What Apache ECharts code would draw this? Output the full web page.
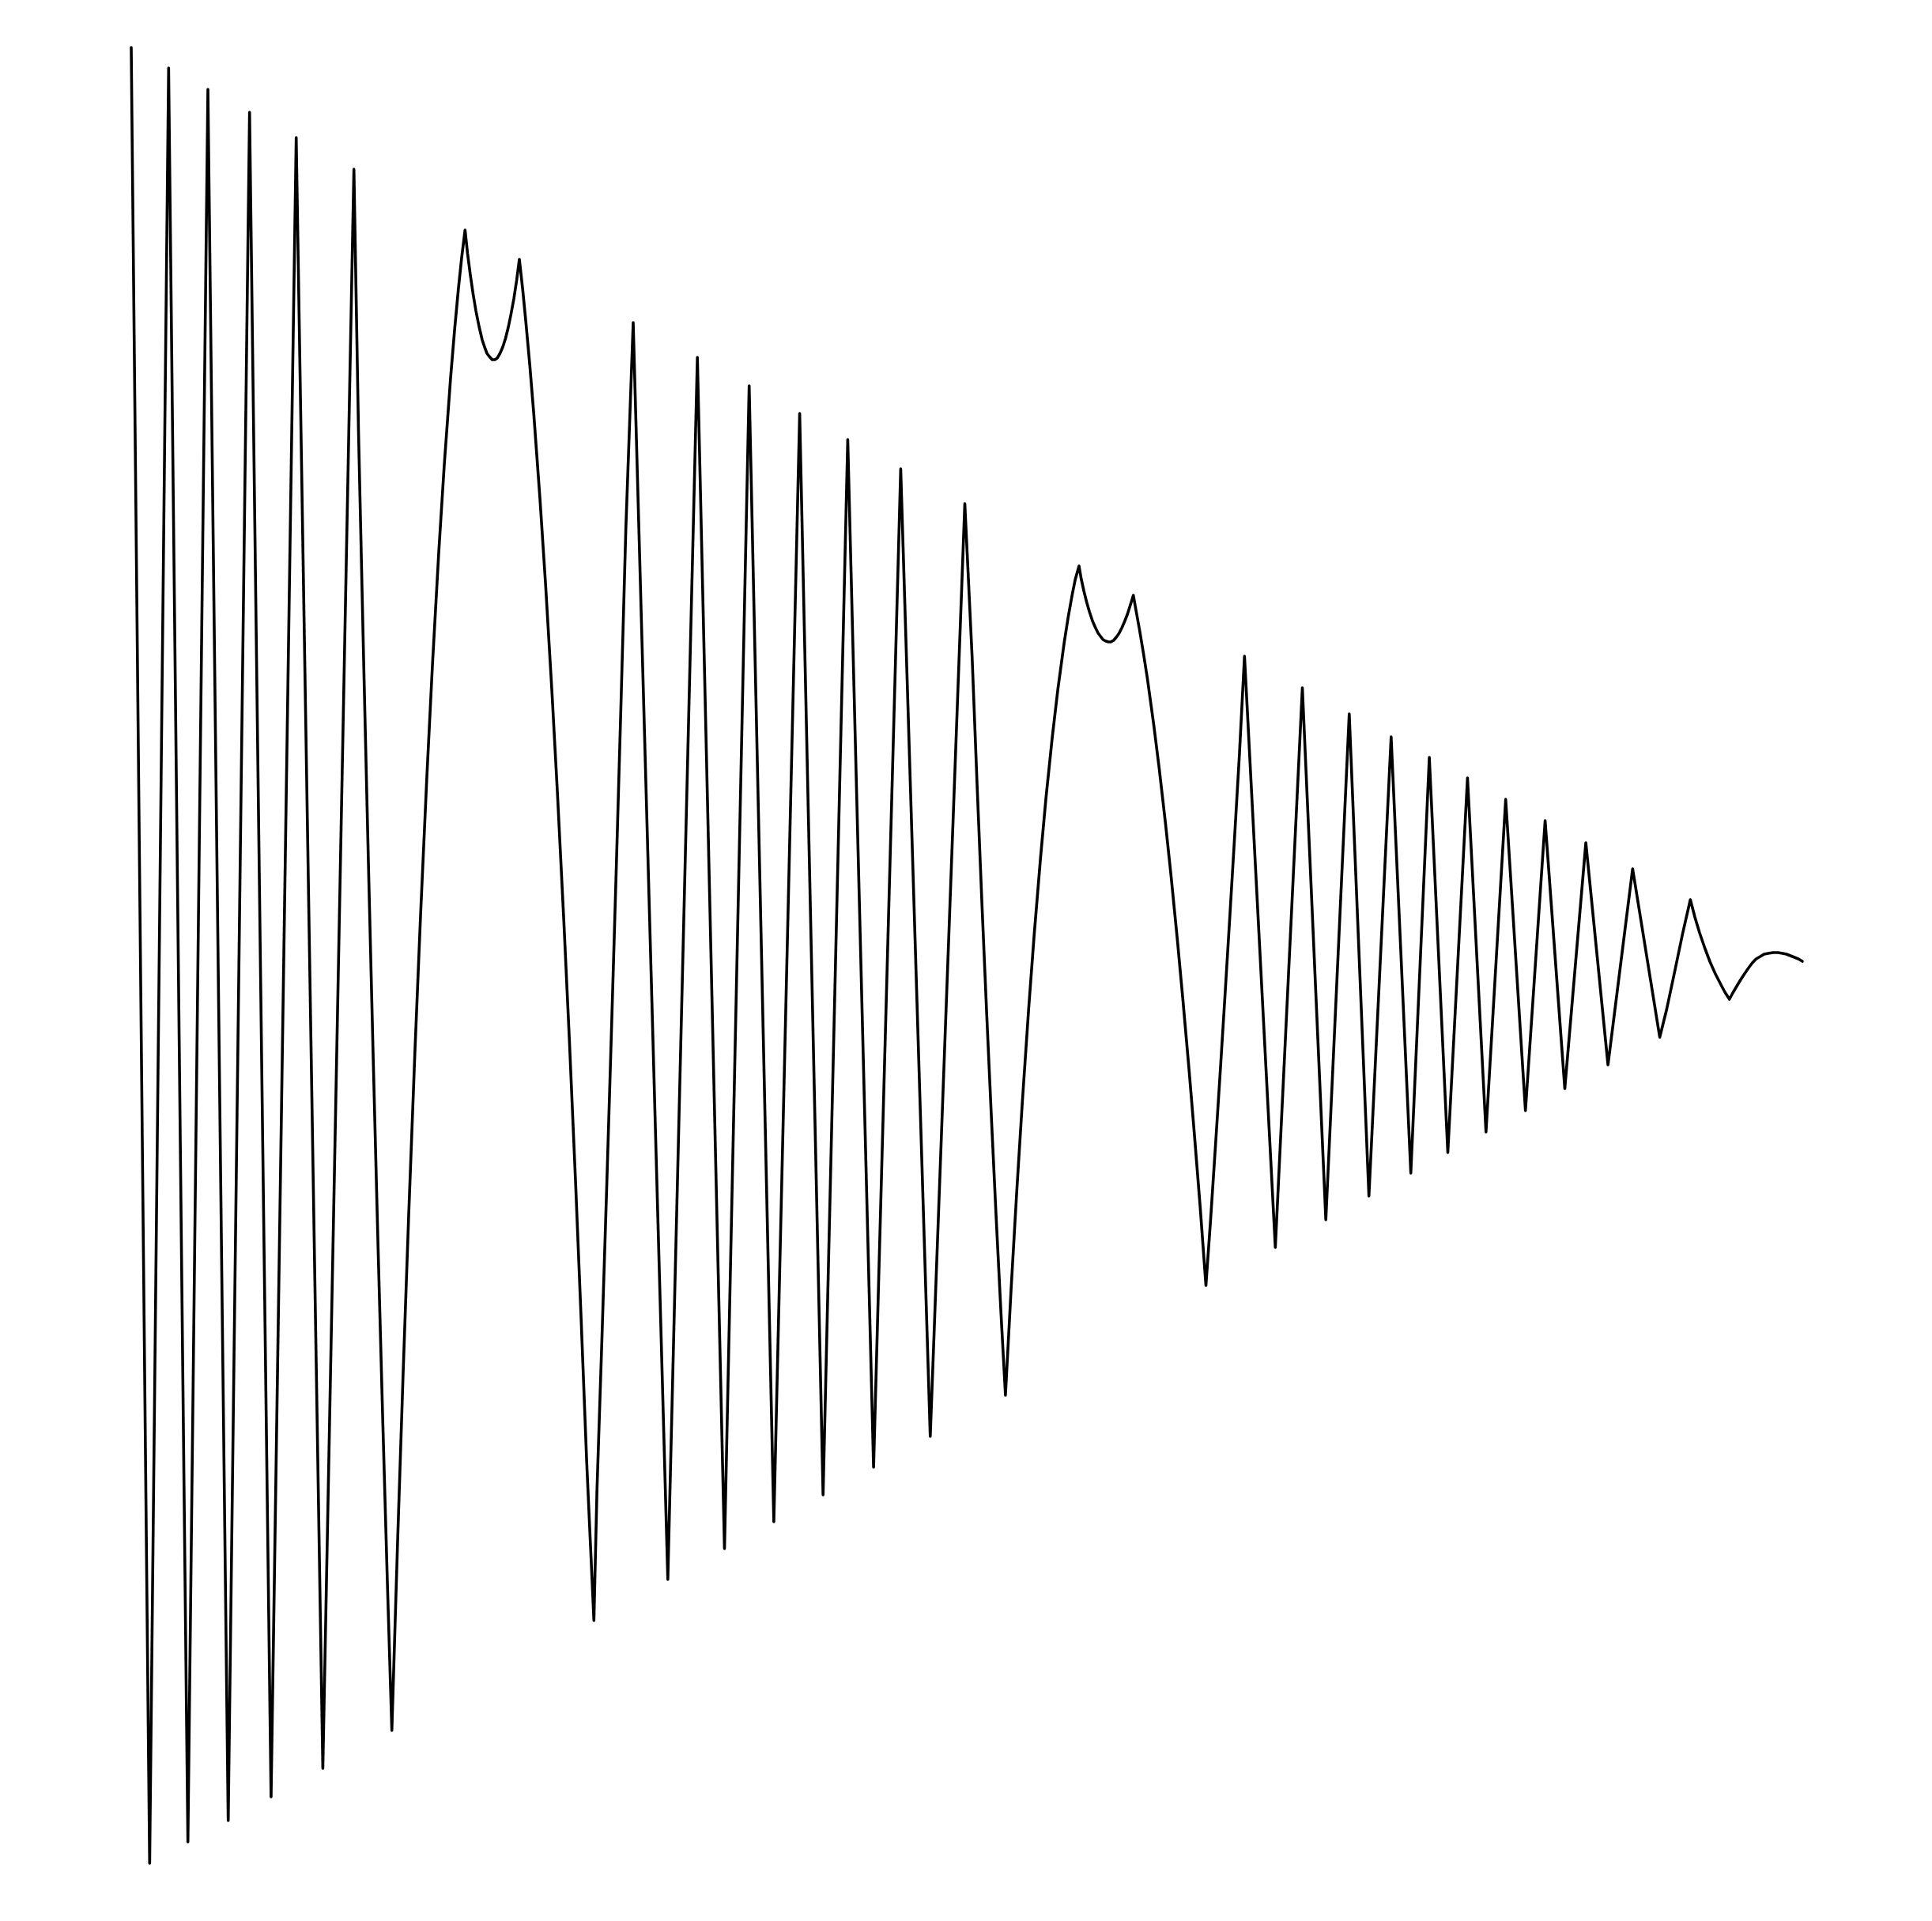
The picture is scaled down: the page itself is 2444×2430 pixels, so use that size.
<!DOCTYPE html>
<html>
<head>
<meta charset="utf-8">
<script src="https://cdn.jsdelivr.net/npm/echarts@6/dist/echarts.min.js"></script>
<style>
html,body{margin:0;padding:0;background:#fff;}
#chart{width:2444px;height:2430px;}
</style>
</head>
<body>
<div id="chart"></div>
<script>
// x positions (arbitrary time units) and signal values
const xs = [0,23.3,47.3,71.7,97,122.7,149.7,176.9,208.7,242.4,281.7,287.5,294,300,306,312,318,324,329.7,
337,344,351,359,366,374,381,389,396,404,409,414,418,422.3,
425.5,429,432.5,436,440,444,447,450,453,456.6,460,463,466.5,470,473.5,477,480.5,484,487.5,491,
495.2,499.2,504.2,509.2,517.2,524.2,532.2,539.2,547.2,554.2,562.2,569.2,576.2,585.3,
589.2,595.2,601.2,607.2,613.2,619.2,625.7,635,
678.8,716.2,750.5,781.7,812.9,845.6,875.2,906.4,939.1,973.4,1010.8,1054.5,
1063.7,1070.2,1076.2,1082.2,1088.2,1094.2,1100.2,1105.9,
1113.2,1120.2,1127.2,1135.2,1142.2,1150.2,1157.2,1165.2,1172.2,1180.2,1185.2,1190.2,1194.2,1199,
1201.7,1205.2,1208.7,1212.2,1216.2,1220.2,1223.2,1226.2,1229.2,1232.8,1236.2,1239.2,1242.7,1246.2,1249.7,1253.2,1256.7,1260.2,1263.7,1267.7,
1271.4,1275.4,1280.4,1285.4,1293.4,1300.4,1308.4,1315.4,1323.4,1330.4,1338.4,1345.4,1352.4,1359.5,
1365.4,1371.4,1377.4,1383.4,1389.4,1395.4,1401.9,1408.3,
1447.3,1481.5,1511.2,1540.8,1565.7,1593.8,1618.7,1642.1,1665.5,1690.4,1713.8,1738.7,1763.7,1788.6,1813.5,1840.1,1868.1,1899.3,1933.6,
1942.3,1952.3,1962.3,1972.3,1978,1984,1990.5,1997.3,2004,2010.7,2016,2021.7,
2026,2030.7,2035.5,2040.7,2045.5,2050.7,2055.5,2060.7,2065.5,2070.7,2077,2083.3,2089,2094,2099,2104,2109,2114];
const ys = [1155,-1142,1129,-1115,1102,-1088,1073,-1058,1041,-1022,1001,670,380,125,-119,-353,-575,-786,-974,
-734,-521,-322,-112,57,233,373,516,627,737,797,851,889,924,
894,867,843,822,802,785,776,768,764,760,760,762,768,776,787,801,818,837,860,887,
849,808,753,692,582,475,340,211,51,-99,-283,-455,-635,-835,
-669,-486,-296,-99,103,312,546,807,
-783,763,-744,727,-710,692,-676,659,-641,622,-602,578,
385,218,71,-68,-200,-326,-445,-550,
-413,-292,-180,-62,32,129,206,283,343,402,434,462,482,499,
483,467,453,441,429,420,414,410,406,404,403,403,405,409,414,421,429,438,449,462,
441,419,389,357,299,243,173,107,26,-50,-141,-226,-314,-411,
-328,-237,-144,-48,50,150,261,385,
-363,345,-328,312,-298,283,-269,257,-243,231,-217,204,-190,177,-162,149,-132,116,-97,
-62,-15,33,77,55,35,16,-2,-17,-30,-40,-49,
-41,-33,-25,-17,-10,-3,2,5,8,9,10,10,9,8,6,4,2,-1];

const data = xs.map((x, i) => [x, ys[i]]);

const chart = echarts.init(document.getElementById('chart'), null, {renderer: 'canvas'});
chart.setOption({
  animation: false,
  backgroundColor: '#ffffff',
  grid: {left: 166, right: 164, top: 15, bottom: 15},
  xAxis: {type: 'value', min: 0, max: 2114, show: false},
  yAxis: {type: 'value', min: -1200, max: 1200, show: false},
  series: [{
    type: 'line',
    data: data,
    showSymbol: false,
    symbol: 'none',
    sampling: null,
    lineStyle: {color: '#000000', width: 3.6, join: 'round', cap: 'round'}
  }]
});
</script>
</body>
</html>
